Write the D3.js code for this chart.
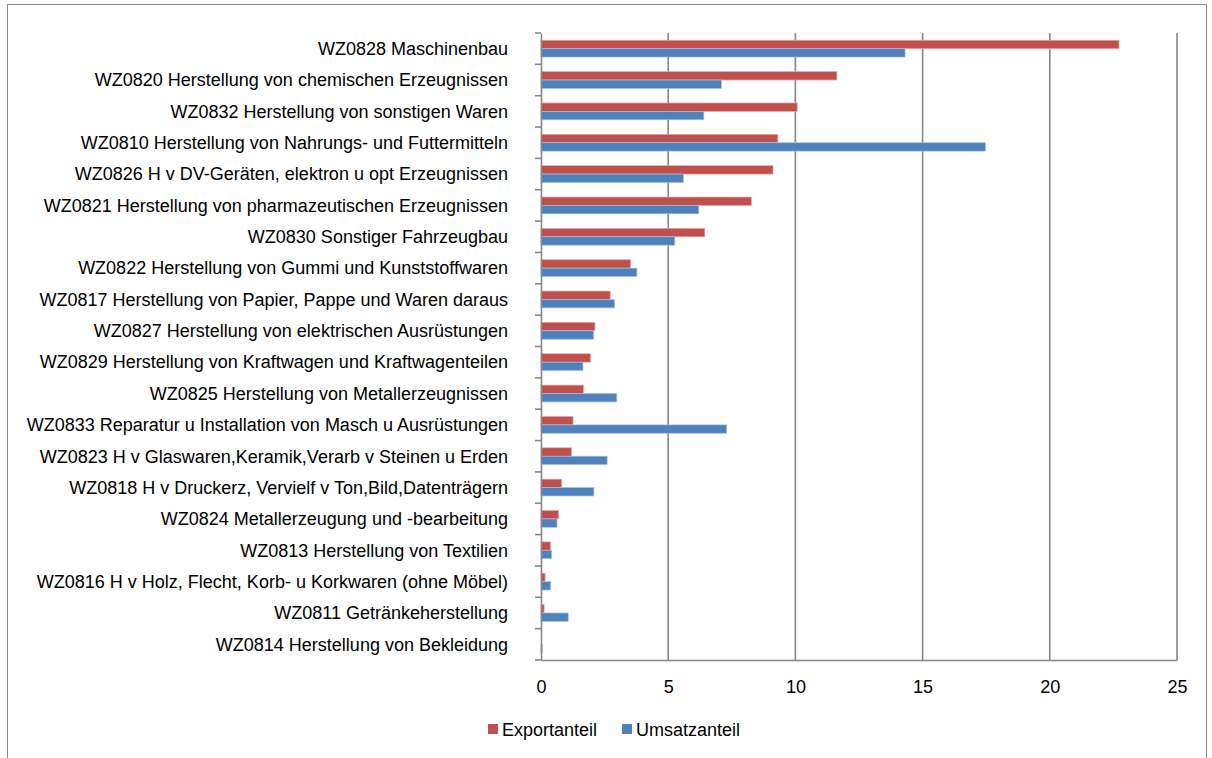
<!DOCTYPE html>
<html><head><meta charset="utf-8">
<script src="https://cdn.jsdelivr.net/npm/d3@7"></script>
<style>body{margin:0;background:#fff;}svg{display:block;font-family:"Liberation Sans",Arial,sans-serif;}</style>
</head><body>
<svg id="c" width="1212" height="758"></svg>
<script>
const categories = [
 "WZ0828 Maschinenbau",
 "WZ0820 Herstellung von chemischen Erzeugnissen",
 "WZ0832 Herstellung von sonstigen Waren",
 "WZ0810 Herstellung von Nahrungs- und Futtermitteln",
 "WZ0826 H v DV-Geräten, elektron u opt Erzeugnissen",
 "WZ0821 Herstellung von pharmazeutischen Erzeugnissen",
 "WZ0830 Sonstiger Fahrzeugbau",
 "WZ0822 Herstellung von Gummi und Kunststoffwaren",
 "WZ0817 Herstellung von Papier, Pappe und Waren daraus",
 "WZ0827 Herstellung von elektrischen Ausrüstungen",
 "WZ0829 Herstellung von Kraftwagen und Kraftwagenteilen",
 "WZ0825 Herstellung von Metallerzeugnissen",
 "WZ0833 Reparatur u Installation von Masch u Ausrüstungen",
 "WZ0823 H v Glaswaren,Keramik,Verarb v Steinen u Erden",
 "WZ0818 H v Druckerz, Vervielf v Ton,Bild,Datenträgern",
 "WZ0824 Metallerzeugung und -bearbeitung",
 "WZ0813 Herstellung von Textilien",
 "WZ0816 H v Holz, Flecht, Korb- u Korkwaren (ohne Möbel)",
 "WZ0811 Getränkeherstellung",
 "WZ0814 Herstellung von Bekleidung"
];
const exportanteil = [22.72, 11.63, 10.07, 9.31, 9.12, 8.27, 6.44, 3.52, 2.72, 2.12, 1.94, 1.67, 1.26, 1.2, 0.81, 0.69, 0.37, 0.16, 0.12, 0.0];
const umsatzanteil = [14.31, 7.09, 6.4, 17.47, 5.6, 6.2, 5.26, 3.77, 2.89, 2.07, 1.65, 2.98, 7.3, 2.6, 2.08, 0.63, 0.42, 0.38, 1.07, 0.05];
const seriesNames = ["Exportanteil", "Umsatzanteil"];
const xTicks = [0, 5, 10, 15, 20, 25];
const colors = {Exportanteil: "#C0504D", Umsatzanteil: "#4F81BD"};
const strokes = {Exportanteil: "#E3A6A4", Umsatzanteil: "#A9C1E0"};
const FS = 18;

const svg = d3.select("#c");
svg.append("rect").attr("x", 7.5).attr("y", 4.5).attr("width", 1199).attr("height", 800)
  .attr("fill", "none").attr("stroke", "#8c8c8c").attr("stroke-width", 1);

const x = d3.scaleLinear().domain([0, 25]).range([541, 1177]);
const y = d3.scaleBand().domain(categories).range([33, 660]).paddingInner(0).paddingOuter(0);
const ys = d3.scaleBand().domain(seriesNames).range([0, y.bandwidth()]).paddingInner(0).paddingOuter(0.866);

svg.append("g").selectAll("line").data(xTicks.slice(1)).join("line")
  .attr("x1", d => x(d)).attr("x2", d => x(d)).attr("y1", 33).attr("y2", 660)
  .attr("stroke", "#878787").attr("stroke-width", 1.6);

const rows = categories.map((c, i) => ({c, vals: [exportanteil[i], umsatzanteil[i]]}));
const g = svg.append("g");
rows.forEach(r => {
  seriesNames.forEach((s, j) => {
    g.append("rect")
      .attr("x", x(0)).attr("y", y(r.c) + ys(s))
      .attr("width", Math.max(0, x(r.vals[j]) - x(0))).attr("height", ys.bandwidth())
      .attr("fill", colors[s]).attr("stroke", strokes[s]).attr("stroke-width", 0.7);
  });
});

const xAxis = d3.axisBottom(x).tickValues(xTicks).tickSize(0).tickPadding(0).tickFormat(d3.format("d"));
const xg = svg.append("g").attr("transform", "translate(0,660)").call(xAxis);
xg.select(".domain").attr("stroke", "#878787").attr("stroke-width", 1.6);
xg.selectAll("text").attr("font-size", FS).attr("fill", "#000").attr("font-family", "Liberation Sans, Arial, sans-serif")
  .attr("dy", null).attr("y", 33);

const yAxis = d3.axisLeft(y).tickSize(0).tickPadding(33);
const yg = svg.append("g").attr("transform", "translate(541,0)").call(yAxis);
yg.select(".domain").attr("stroke", "#878787").attr("stroke-width", 1.6);
yg.selectAll("text").attr("font-size", FS).attr("fill", "#000").attr("font-family", "Liberation Sans, Arial, sans-serif")
  .attr("x", -33).attr("dy", "0.35em");
const bounds = categories.map(c => y(c)).concat([660]);
svg.append("g").selectAll("line").data(bounds).join("line")
  .attr("x1", 535).attr("x2", 541).attr("y1", d => d).attr("y2", d => d)
  .attr("stroke", "#878787").attr("stroke-width", 1.6);

const legend = svg.append("g");
const legItems = [{s: "Exportanteil", x: 488}, {s: "Umsatzanteil", x: 622}];
legItems.forEach(it => {
  legend.append("rect").attr("x", it.x).attr("y", 724).attr("width", 10).attr("height", 10).attr("fill", colors[it.s]);
  legend.append("text").attr("x", it.x + 14).attr("y", 735.5).attr("font-size", FS).attr("fill", "#000").text(it.s);
});
</script>
</body></html>
